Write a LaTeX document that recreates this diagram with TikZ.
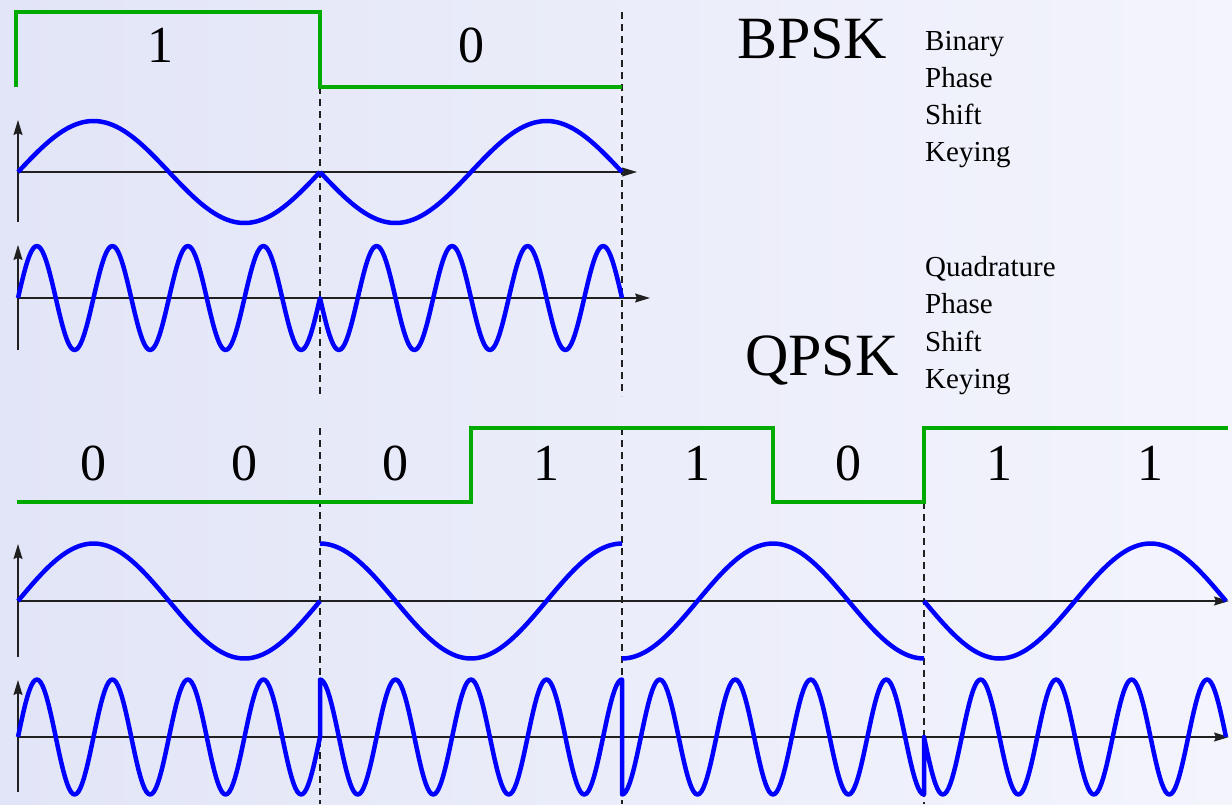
\documentclass[tikz,border=0pt]{standalone}
\usepackage{fontspec}
\setmainfont{Liberation Serif}
\usetikzlibrary{positioning, arrows.meta}
\definecolor{bitgreen}{HTML}{00AA00}
\definecolor{wavblue}{HTML}{0000FF}
\definecolor{axgray}{HTML}{202020}
\definecolor{bgleft}{HTML}{E2E5F7}
\definecolor{bgright}{HTML}{F3F4FC}

\begin{document}
\begin{tikzpicture}[
    x=1pt, y=-1pt,
    bits/.style={bitgreen, line width=4pt},
    wave/.style={wavblue, line width=4.5pt},
    axis/.style={axgray, line width=1.2pt, -{Stealth[length=15pt, width=9pt, inset=2pt]}},
    guide/.style={axgray, line width=1.2pt, dash pattern=on 7pt off 5pt},
    bitlbl/.style={font=\fontsize{52}{52}\selectfont, inner sep=0pt},
    title/.style={font=\fontsize{60}{60}\selectfont, inner sep=0pt, anchor=base west},
    word/.style={font=\fontsize{29}{29}\selectfont, inner sep=0pt, anchor=base west}
  ]
    \fill[left color=bgleft, right color=bgright] (0,0) rectangle (1232,804);
    \useasboundingbox (0,0) rectangle (1232,804);

    \draw[guide] (320,87) -- (320,396);
    \draw[guide] (622,12) -- (622,396);
    \draw[guide] (320,428) -- (320,804);
    \draw[guide] (622,428) -- (622,804);
    \draw[guide] (924,502) -- (924,804);

    \coordinate (b1o) at (18,172);
    \coordinate (b2o) at (18,298);
    \coordinate (q1o) at (18,601);
    \coordinate (q2o) at (18,737);
    \draw[axis] (b1o) -- (637,172);
    \draw[axis] (18,222) -- (18,120);
    \draw[axis] (b2o) -- (650,298);
    \draw[axis] (18,350) -- (18,245);
    \draw[axis] (q1o) -- (1229,601);
    \draw[axis] (18,657) -- (18,544);
    \draw[axis] (q2o) -- (1229,737);
    \draw[axis] (18,792) -- (18,680);

    \foreach \k/\ph [evaluate=\k as \xa using 18+302*\k, evaluate=\k as \xb using 320+302*\k] in {0/0, 1/180}
      \draw[wave] plot[domain=\xa:\xb, samples=90] (\x, {172 - 51*sin((\x-18)/302*360 + \ph)});
    \draw[wave, line join=round] plot[domain=18:320, samples=161] (\x, {298 - 52*sin((\x-18)/302*1440)})
      -- plot[domain=320:622, samples=161] (\x, {298 - 52*sin((\x-18)/302*1440 + 180)});

    \foreach \k/\ph [evaluate=\k as \xa using 18+302*\k, evaluate=\k as \xb using 320+302*\k] in {0/0, 1/90, 2/270, 3/180}
      \draw[wave] plot[domain=\xa:\xb, samples=90] (\x, {601 - 57.5*sin((\x-18)/302*360 + \ph)});
    \draw[wave, line join=round] plot[domain=18:320, samples=161] (\x, {737 - 57.5*sin((\x-18)/302*1440)})
      -- plot[domain=320:622, samples=161] (\x, {737 - 57.5*sin((\x-18)/302*1440 + 90)})
      -- plot[domain=622:924, samples=161] (\x, {737 - 57.5*sin((\x-18)/302*1440 + 270)})
      -- plot[domain=924:1226, samples=161] (\x, {737 - 57.5*sin((\x-18)/302*1440 + 180)});

    \draw[bits] (16,87) |- (320,12) |- (622,87);
    \draw[bits] (17,502) -| (471,428) -| (773,502) -| (924,428) -- (1228,428);

    \node[bitlbl] (bb1) at (160,45) {1};
    \node[bitlbl] (bb2) at (471,45) {0};
    \foreach \b [count=\i from 0] in {0,0,0,1,1,0,1,1}
      \node[bitlbl] (qb\i) at ({93.5+151*\i},463) {\b};

    \node[title] (bpsk) at (737,58) {BPSK};
    \node[title] (qpsk) at (745,375) {QPSK};
    \foreach \w [count=\i from 0] in {Binary, Phase, Shift, Keying}
      \node[word] (bw\i) at (925,{50+37.3*\i}) {\w};
    \foreach \w [count=\i from 0] in {Quadrature, Phase, Shift, Keying}
      \node[word] (qw\i) at (925,{276.5+37.3*\i}) {\w};
\end{tikzpicture}
\end{document}
